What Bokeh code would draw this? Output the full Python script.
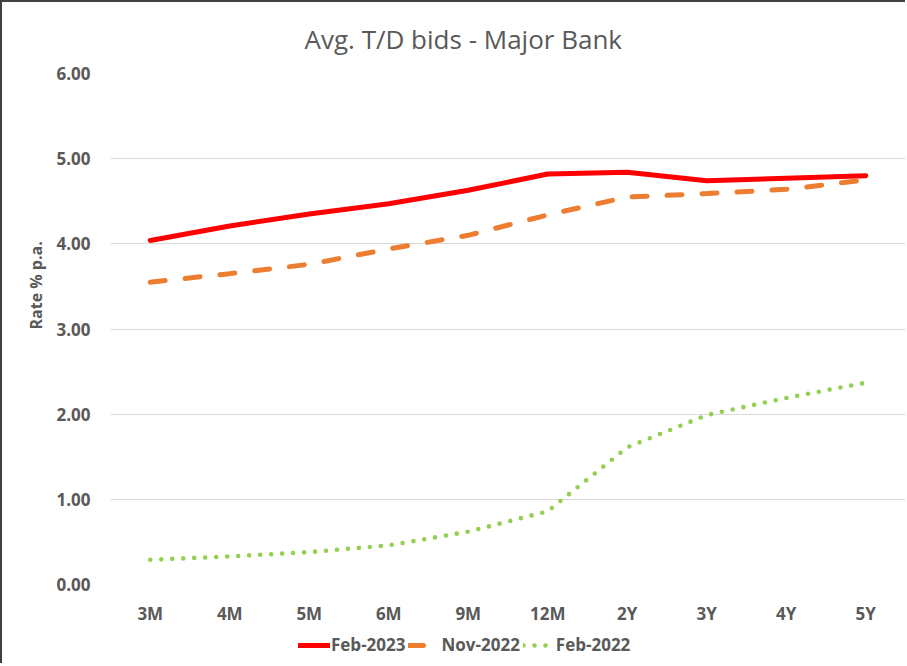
from bokeh.plotting import figure
from bokeh.models import FactorRange, Range1d, Legend, FixedTicker, Title
from bokeh.layouts import column
from bokeh.embed import file_html
from bokeh.resources import INLINE

terms = ["3M", "4M", "5M", "6M", "9M", "12M", "2Y", "3Y", "4Y", "5Y"]
feb2023 = [4.04, 4.21, 4.35, 4.47, 4.63, 4.82, 4.84, 4.74, 4.77, 4.80]
nov2022 = [3.55, 3.65, 3.76, 3.94, 4.10, 4.34, 4.55, 4.59, 4.64, 4.75]
feb2022 = [0.29, 0.33, 0.38, 0.46, 0.62, 0.86, 1.61, 1.99, 2.19, 2.37]
series_names = ["Feb-2023", "Nov-2022", "Feb-2022"]
y_ticks = [0, 1, 2, 3, 4, 5, 6]
y_tick_labels = {0: "0.00", 1: "1.00", 2: "2.00", 3: "3.00", 4: "4.00", 5: "5.00", 6: "6.00"}

TXT = "#595959"
FONT = "Open Sans"
styles = [
    dict(line_color="#ff0000", line_width=5, line_join="round", line_cap="round"),
    dict(line_color="#ed7d31", line_width=5, line_dash="15 20", line_cap="round"),
    dict(line_color="#92d050", line_width=4.6, line_dash="0 11", line_cap="round"),
]

p = figure(
    width=903, height=625,
    x_range=FactorRange(*terms, range_padding=0),
    y_range=Range1d(0, 6),
    output_backend="svg", toolbar_location=None,
    min_border_left=108, min_border_right=0, min_border_top=71, min_border_bottom=10,
)

p.title.text = "Avg. T/D bids - Major Bank"
p.title.align = "left"
p.title.offset = 194
p.title.text_font = FONT
p.title.text_font_size = "26px"
p.title.text_font_style = "normal"
p.title.text_color = TXT
p.title.standoff = 33

p.outline_line_color = None
p.xgrid.grid_line_color = None
p.ygrid.grid_line_color = "#d9d9d9"
p.ygrid.grid_line_width = 1
p.yaxis.ticker = FixedTicker(ticks=y_ticks)
p.yaxis.major_label_overrides = y_tick_labels

for ax in (p.xaxis[0], p.yaxis[0]):
    ax.axis_line_color = None
    ax.major_tick_line_color = None
    ax.minor_tick_line_color = None
    ax.major_tick_out = 0
    ax.major_tick_in = 0
    ax.major_label_text_font = FONT
    ax.major_label_text_font_style = "bold"
    ax.major_label_text_font_size = "17px"
    ax.major_label_text_color = TXT
p.yaxis.major_label_standoff = 20
p.xaxis.major_label_standoff = 17

data = [feb2023, nov2022, feb2022]
for vals, st in zip(data, styles):
    p.line(terms, vals, **st)

ylab = Title(text="Rate % p.a.", align="left", offset=255,
             text_font=FONT, text_font_style="bold", text_font_size="16px",
             text_color=TXT, standoff=14)
p.add_layout(ylab, "left")

# legend strip below the chart (series drawn there fall outside its visible y window)
p2 = figure(width=903, height=36, x_range=FactorRange(*terms, range_padding=0),
            y_range=Range1d(10, 11),
            x_axis_type=None, y_axis_type=None, output_backend="svg",
            toolbar_location=None, min_border=0)
p2.outline_line_color = None
p2.xgrid.visible = False
p2.ygrid.visible = False
items = []
for name, vals, st in zip(series_names, data, styles):
    r = p2.line(terms, vals, **st)
    items.append((name, [r]))
legend = Legend(items=items, orientation="horizontal", location=(188, 7),
                glyph_width=32, label_standoff=1, spacing=3,
                label_text_font=FONT, label_text_font_size="17px",
                label_text_font_style="bold", label_text_color=TXT,
                background_fill_alpha=0, border_line_color=None,
                padding=0, margin=0)
p2.add_layout(legend, "center")

layout = column(p, p2, spacing=0,
                styles={"border-top": "2px solid #404040", "border-left": "2px solid #404040"})

open("out.html", "w").write(file_html(layout, INLINE))
